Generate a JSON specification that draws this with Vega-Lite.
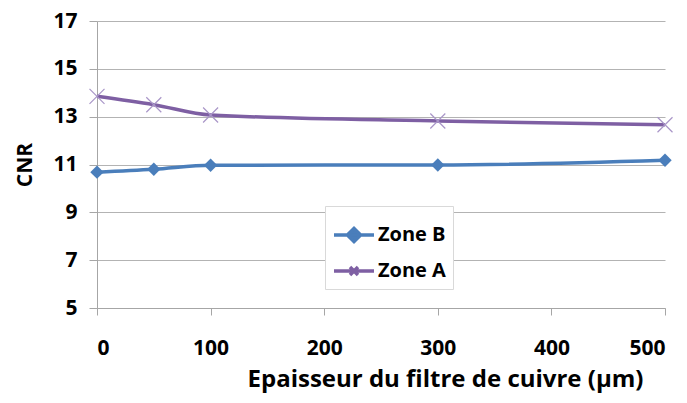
{
  "$schema": "https://vega.github.io/schema/vega-lite/v6.json",
  "width": 568,
  "height": 287,
  "autosize": {"type": "none"},
  "padding": {"left": 97, "top": 21, "right": 22, "bottom": 95},
  "background": "white",
  "data": {
    "values": [
      {"x": 0, "zone": "Zone B", "cnr": 10.68},
      {"x": 50, "zone": "Zone B", "cnr": 10.8},
      {"x": 100, "zone": "Zone B", "cnr": 10.97},
      {"x": 300, "zone": "Zone B", "cnr": 10.98},
      {"x": 500, "zone": "Zone B", "cnr": 11.18},
      {"x": 0, "zone": "Zone A", "cnr": 13.85},
      {"x": 50, "zone": "Zone A", "cnr": 13.5},
      {"x": 100, "zone": "Zone A", "cnr": 13.07},
      {"x": 300, "zone": "Zone A", "cnr": 12.82},
      {"x": 500, "zone": "Zone A", "cnr": 12.66}
    ]
  },
  "config": {
    "view": {"stroke": null},
    "font": "Open Sans"
  },
  "encoding": {
    "x": {
      "field": "x", "type": "quantitative",
      "scale": {"domain": [0, 500], "nice": false, "zero": false},
      "axis": {
        "values": [0, 100, 200, 300, 400, 500],
        "grid": false,
        "domainColor": "#a6a6a6", "domainWidth": 1,
        "tickColor": "#a6a6a6", "tickSize": 7,
        "labelFont": "Open Sans", "labelFontWeight": "bold", "labelFontSize": 21, "labelColor": "black",
        "labelPadding": 22,
        "title": "Epaisseur du filtre de cuivre (µm)",
        "titleFont": "Open Sans", "titleFontWeight": "bold", "titleFontSize": 24, "titleColor": "black",
        "titleX": 348, "titleAlign": "center",
        "titlePadding": 9
      }
    },
    "y": {
      "field": "cnr", "type": "quantitative",
      "scale": {"domain": [5, 17], "nice": false, "zero": false},
      "axis": {
        "values": [5, 7, 9, 11, 13, 15, 17],
        "grid": true, "gridColor": "#b3b3b3", "gridWidth": 1,
        "domainColor": "#a6a6a6",
        "tickColor": "#a6a6a6", "tickSize": 8,
        "labelFont": "Open Sans", "labelFontWeight": "bold", "labelFontSize": 21, "labelColor": "black",
        "labelPadding": 12,
        "title": "CNR",
        "titleFont": "Open Sans", "titleFontWeight": "bold", "titleFontSize": 21, "titleColor": "black",
        "titlePadding": 17
      }
    }
  },
  "layer": [
    {
      "mark": {"type": "line", "strokeWidth": 3.5, "interpolate": "monotone"},
      "encoding": {
        "color": {
          "field": "zone", "type": "nominal",
          "scale": {"domain": ["Zone B", "Zone A"], "range": ["#4A7EBB", "#7E5FA3"]},
          "legend": {
            "title": null,
            "orient": "none",
            "legendX": 228,
            "legendY": 185,
            "padding": 7,
            "strokeColor": "#d9d9d9",
            "fillColor": "white",
            "symbolSize": 1600,
            "symbolStrokeWidth": 3.5,
            "rowPadding": 0,
            "labelFont": "Open Sans", "labelFontWeight": "bold", "labelFontSize": 20, "labelColor": "black",
            "labelOffset": 2,
            "encode": {
              "symbols": {
                "update": {
                  "shape": {"signal": "datum.value === 'Zone B' ? 'M-1,0L1,0M-0.33,0L0,-0.33L0.33,0L0,0.33Z' : 'M-1,0L1,0M-0.2,-0.2L0.2,0.2M-0.2,0.2L0.2,-0.2'"},
                  "fill": {"signal": "datum.value === 'Zone B' ? '#4A7EBB' : 'transparent'"},
                  "stroke": {"signal": "datum.value === 'Zone B' ? '#4A7EBB' : '#7E5FA3'"},
                  "strokeWidth": {"value": 3.5}
                }
              }
            }
          }
        }
      }
    },
    {
      "transform": [{"filter": "datum.zone === 'Zone B'"}],
      "mark": {"type": "point", "shape": "diamond", "filled": true, "size": 180, "color": "#4A7EBB", "opacity": 1}
    },
    {
      "transform": [{"filter": "datum.zone === 'Zone A'"}],
      "mark": {"type": "point", "shape": "M-1,-1L1,1M-1,1L1,-1", "filled": false, "size": 225, "stroke": "#A996C8", "strokeWidth": 1.2, "opacity": 1}
    }
  ]
}
